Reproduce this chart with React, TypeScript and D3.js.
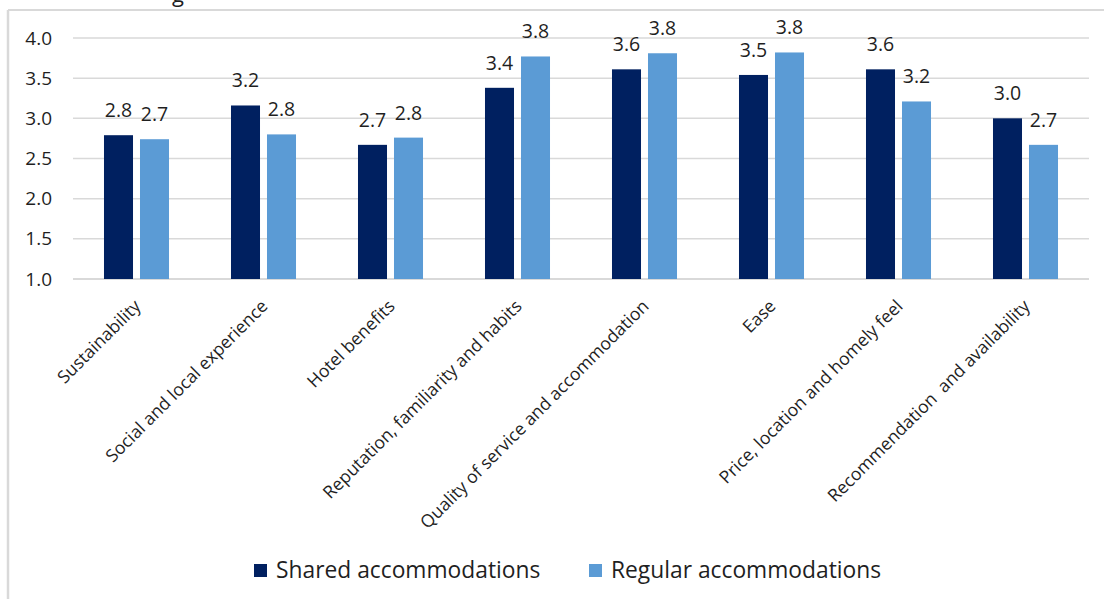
import React from "react";
import * as d3 from "d3";

const categories = [
  "Sustainability",
  "Social and local experience",
  "Hotel benefits",
  "Reputation, familiarity and habits",
  "Quality of service and accommodation",
  "Ease",
  "Price, location and homely feel",
  "Recommendation  and availability",
];
const seriesNames = ["Shared accommodations", "Regular accommodations"];
const sharedValues = [2.79, 3.16, 2.67, 3.38, 3.61, 3.54, 3.61, 3.0];
const regularValues = [2.74, 2.8, 2.76, 3.77, 3.81, 3.82, 3.21, 2.67];
const yTicks = [1.0, 1.5, 2.0, 2.5, 3.0, 3.5, 4.0];
const colors = ["#002060", "#5b9bd5"];

const W = 1104;
const H = 599;
const FONT = "'Open Sans', 'Noto Sans', sans-serif";
const TEXT = "#1f1f1f";

export default function App() {
  const plotLeft = 73;
  const plotRight = 1089;
  const plotTop = 38;
  const plotBottom = 279;

  const x0 = d3
    .scaleBand<string>()
    .domain(categories)
    .range([plotLeft, plotRight])
    .paddingInner(0.488)
    .paddingOuter(0.244);
  const x1 = d3
    .scaleBand<string>()
    .domain(seriesNames)
    .range([0, x0.bandwidth()])
    .paddingInner(0.194);
  const y = d3.scaleLinear().domain([1, 4]).range([plotBottom, plotTop]);
  const fmt = d3.format(".1f");
  const series = [sharedValues, regularValues];

  return (
    <svg
      width={W}
      height={H}
      style={{ position: "absolute", left: 0, top: 0, background: "#fff" }}
      fontFamily={FONT}
    >
      {/* partial title fragment clipped at top, as in the reference */}
      <text x={172} y={2} fontSize={22} fill={TEXT}>
        g
      </text>
      {/* chart border */}
      <line x1={8} x2={W} y1={10} y2={10} stroke="#d9d9d9" strokeWidth={2} />
      <line x1={8} x2={8} y1={10} y2={H} stroke="#d9d9d9" strokeWidth={2.5} />

      {/* gridlines and y labels */}
      {yTicks.map((t) => (
        <g key={t}>
          <line
            x1={plotLeft}
            x2={plotRight}
            y1={y(t)}
            y2={y(t)}
            stroke="#d9d9d9"
            strokeWidth={t === 1 ? 2 : 1.5}
          />
          <text
            x={52}
            y={y(t)}
            dy="0.35em"
            textAnchor="end"
            fontSize={19}
            fill={TEXT}
          >
            {fmt(t)}
          </text>
        </g>
      ))}

      {/* bars */}
      {categories.map((c, i) => (
        <g key={c} transform={`translate(${x0(c)},0)`}>
          {seriesNames.map((s, j) => {
            const v = series[j][i];
            const bx = x1(s)!;
            return (
              <g key={s}>
                <rect
                  x={bx}
                  y={y(v)}
                  width={x1.bandwidth()}
                  height={y(1) - y(v)}
                  fill={colors[j]}
                />
                <text
                  x={bx + x1.bandwidth() / 2}
                  y={y(v) - 18}
                  textAnchor="middle"
                  fontSize={19.5}
                  fill={TEXT}
                >
                  {fmt(v)}
                </text>
              </g>
            );
          })}
        </g>
      ))}

      {/* category labels */}
      {categories.map((c) => {
        const cx = x0(c)! + x0.bandwidth() / 2 + 1;
        const cy = plotBottom + 24;
        return (
          <text
            key={c}
            transform={`translate(${cx},${cy}) rotate(-45)`}
            textAnchor="end"
            dy="0.35em"
            fontSize={17.6}
            fill={TEXT}
            style={{ whiteSpace: "pre" }}
          >
            {c}
          </text>
        );
      })}

      {/* legend */}
      {seriesNames.map((s, j) => {
        const lx = j === 0 ? 254 : 589;
        return (
          <g key={s}>
            <rect x={lx} y={564} width={13} height={13} fill={colors[j]} />
            <text
              x={lx + 22}
              y={570.5}
              dy="0.35em"
              fontSize={22.8}
              fill={TEXT}
            >
              {s}
            </text>
          </g>
        );
      })}
    </svg>
  );
}
